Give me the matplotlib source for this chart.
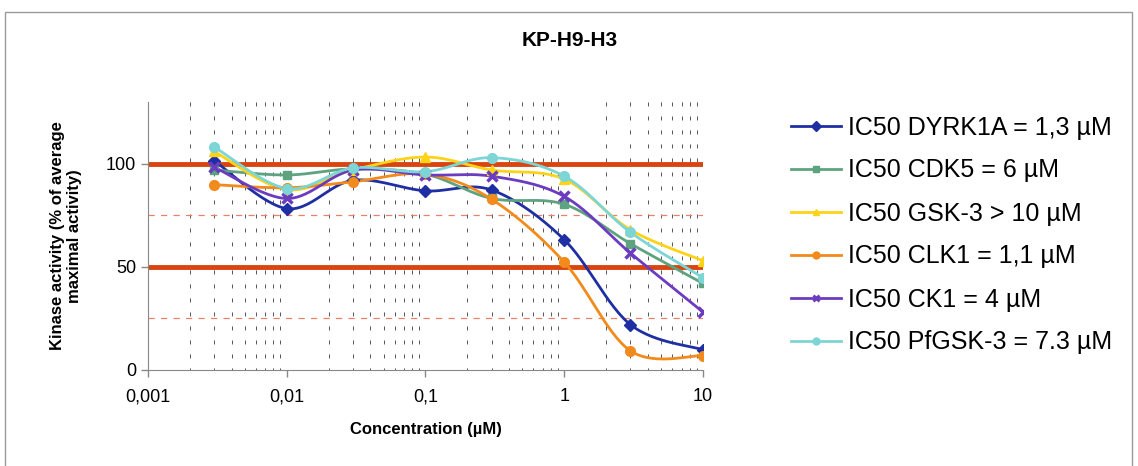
import numpy as np
import matplotlib
matplotlib.use("Agg")
import matplotlib.pyplot as plt
from matplotlib.lines import Line2D
from matplotlib.patches import Rectangle

plt.rcParams['font.family'] = ['Liberation Sans', 'DejaVu Sans']

title = "KP-H9-H3"
conc = [0.003, 0.01, 0.03, 0.1, 0.3, 1, 3, 10]
labels = ["IC50 DYRK1A = 1,3 µM", "IC50 CDK5 = 6 µM", "IC50 GSK-3 > 10 µM",
          "IC50 CLK1 = 1,1 µM", "IC50 CK1 = 4 µM", "IC50 PfGSK-3 = 7.3 µM"]
dyrk1a = [101.5, 78.3, 92, 86.9, 87.3, 63.2, 22, 9.8]
cdk5 = [97, 94.6, 97.5, 95, 83.2, 80.4, 61.3, 42]
gsk3 = [106, 87.5, 97, 103.3, 97, 92.6, 68, 53]
clk1 = [89.9, 88.4, 91.3, 95, 82.8, 52.3, 9.3, 7]
ck1 = [98.4, 83.2, 97, 94.6, 94, 84.2, 56.7, 28.1]
pfgsk3 = [108.2, 88, 98, 96.2, 103, 94, 66.8, 44.8]
series = [dyrk1a, cdk5, gsk3, clk1, ck1, pfgsk3]
xticks = [0.001, 0.01, 0.1, 1, 10]
xticklabels = ["0,001", "0,01", "0,1", "1", "10"]
yticks = [0, 50, 100]

colors = ["#1f2fa3", "#5ea37f", "#fdd318", "#f28a1c", "#6b3cbf", "#7dd5d6"]
markers = ["D", "s", "^", "o", "x", "o"]
msizes = [6, 6, 7, 7, 7, 7]


def smooth(x, y, n=30):
    lx = np.log10(np.asarray(x, float))
    yy = np.asarray(y, float)
    P = np.column_stack([lx, yy])
    m = len(P)
    out = []
    for i in range(m - 1):
        p0 = P[i - 1] if i > 0 else P[i]
        p1 = P[i]
        p2 = P[i + 1]
        p3 = P[i + 2] if i + 2 < m else P[i + 1]
        c1 = p1 + (p2 - p0) / 6.0
        c2 = p2 - (p3 - p1) / 6.0
        t = np.linspace(0, 1, n)[:, None]
        seg = ((1 - t) ** 3) * p1 + 3 * ((1 - t) ** 2) * t * c1 + 3 * (1 - t) * t ** 2 * c2 + t ** 3 * p2
        out.append(seg if i == 0 else seg[1:])
    pts = np.vstack(out)
    return 10 ** pts[:, 0], pts[:, 1]


fig = plt.figure(figsize=(11.38, 4.66), dpi=100)
fig.patches.append(Rectangle((5 / 1138, -0.05), 1127 / 1138, 1 - 12 / 466 + 0.05,
                             transform=fig.transFigure, fill=False,
                             edgecolor="#9a9a9a", linewidth=1.0))
ax = fig.add_axes([148 / 1138, 1 - 370 / 466, (703 - 148) / 1138, (370 - 102) / 466])
ax.set_xscale("log")
ax.set_xlim(0.001, 10)
ax.set_ylim(0, 130)

# minor vertical gridlines
for d in [0.001, 0.01, 0.1, 1]:
    for k in range(2, 10):
        ax.axvline(d * k, color="#555555", linewidth=0.7, linestyle=(2, (4.1, 10.3)), zorder=1)

ax.axhline(100, color="#d9440f", linewidth=3.5, zorder=2)
ax.axhline(50, color="#d9440f", linewidth=3.5, zorder=2)
ax.axhline(75, color="#e8806a", linewidth=0.9, linestyle=(0, (5, 5)), zorder=2)
ax.axhline(25, color="#e8806a", linewidth=0.9, linestyle=(0, (5, 5)), zorder=2)

handles = []
for s, c, mk, ms, lab in zip(series, colors, markers, msizes, labels):
    sx, sy = smooth(conc, s)
    ax.plot(sx, sy, color=c, linewidth=2, zorder=3)
    mew = 2.5 if mk == "x" else 1
    ax.plot(conc, s, linestyle="none", marker=mk, color=c, markersize=ms,
            markeredgewidth=mew, zorder=4)
    handles.append(Line2D([], [], color=c, linewidth=2, marker=mk,
                          markersize=5, markeredgewidth=(2 if mk == "x" else 1), label=lab))

ax.set_xticks(xticks)
ax.set_xticklabels(xticklabels)
ax.xaxis.set_minor_locator(matplotlib.ticker.NullLocator())
ax.set_yticks(yticks)
ax.tick_params(axis="both", labelsize=13, color="#888888", length=5, width=1)
ax.tick_params(axis="x", pad=8)
for sp in ["top", "right"]:
    ax.spines[sp].set_visible(False)
for sp in ["left", "bottom"]:
    ax.spines[sp].set_color("#888888")

ax.set_xlabel("Concentration (µM)", fontsize=12, fontweight="bold", labelpad=12)
fig.text(66 / 1138, 1 - 236 / 466, "Kinase activity (% of average\nmaximal activity)",
         rotation=90, ha="center", va="center", fontsize=12, fontweight="bold",
         linespacing=1.15)
fig.text(570 / 1138, 1 - 40 / 466, title, ha="center", va="center",
         fontsize=15, fontweight="bold")

leg = fig.legend(handles=handles, loc="upper left", bbox_to_anchor=(768 / 1138, 1 - 93 / 466),
                 frameon=False, fontsize=18, handlelength=2.0, handletextpad=0.3,
                 labelspacing=0.76)

fig.savefig("out.png", dpi=100)
